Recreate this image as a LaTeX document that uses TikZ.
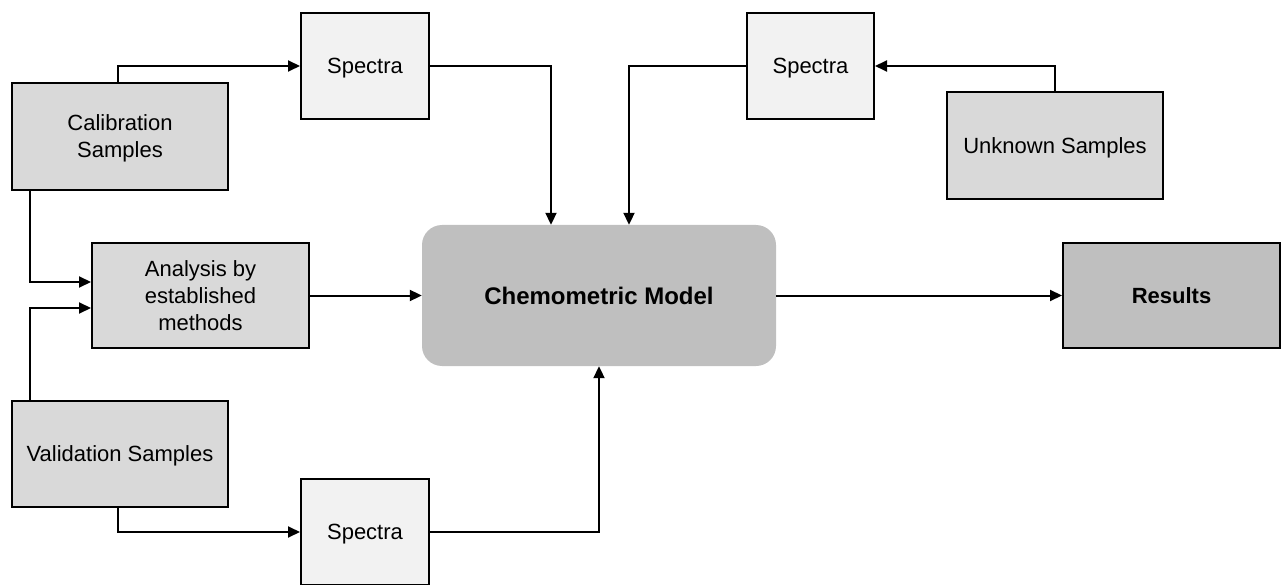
\documentclass[tikz,border=0pt]{standalone}
\usepackage{fontspec}
\setmainfont{Liberation Sans}
\usetikzlibrary{arrows.meta,calc}
\definecolor{boxgray}{HTML}{D9D9D9}
\definecolor{speclight}{HTML}{F2F2F2}
\definecolor{modelgray}{HTML}{BFBFBF}
\begin{document}
\begin{tikzpicture}[x=1pt,y=-1pt,
  every node/.style={font=\fontsize{22}{27}\selectfont, align=center, inner sep=0pt, text depth=0pt},
  samplebox/.style={draw=black, line width=2pt, fill=boxgray, minimum width=216pt, minimum height=106pt},
  specbox/.style={draw=black, line width=2pt, fill=speclight, minimum width=128pt, minimum height=106pt},
  modelbox/.style={fill=modelgray, rounded corners=20pt, minimum width=354pt, minimum height=141pt, font=\fontsize{24}{29}\selectfont\bfseries},
  resbox/.style={draw=black, line width=2pt, fill=modelgray, minimum width=217pt, minimum height=105pt, font=\fontsize{22}{27}\selectfont\bfseries},
  conn/.style={draw=black, line width=2pt, -{Triangle[length=12pt,width=11pt]}}
]
\useasboundingbox (0,0) rectangle (1287,585);
\node[samplebox, minimum height=107pt] (cal) at (120,136.5) {Calibration\\Samples};
\node[specbox] (sp1) at (365,66) {Spectra};
\node[samplebox, minimum width=217pt, minimum height=105pt] (ana) at (200.5,295.5) {Analysis by\\established\\methods};
\node[samplebox] (val) at (120,454) {Validation Samples};
\node[specbox] (sp3) at (365,532) {Spectra};
\node[modelbox] (chem) at (599,295.5) {Chemometric Model};
\node[specbox, minimum width=127pt] (sp2) at (810.5,66) {Spectra};
\node[samplebox, minimum height=107pt] (unk) at (1055,145.5) {Unknown Samples};
\node[resbox] (res) at (1171.5,295.5) {Results};

\coordinate (chemA) at ($(chem.north)+(-48,0)$);
\coordinate (chemB) at ($(chem.north)+(30,0)$);
\coordinate (calS) at ($(cal.south west)+(19,0)$);
\coordinate (valN) at ($(val.north west)+(19,0)$);
\coordinate (anaA) at ($(ana.west)+(0,-13.5)$);
\coordinate (anaB) at ($(ana.west)+(0,12.5)$);
\coordinate (calN) at ($(cal.north)+(-2,0)$);
\coordinate (valS) at ($(val.south)+(-2,0)$);

\draw[conn] (calN) |- (sp1.west);
\draw[conn] (sp1.east) -| (chemA);
\draw[conn] (sp2.west) -| (chemB);
\draw[conn] (unk.north) |- (sp2.east);
\draw[conn] (calS) |- (anaA);
\draw[conn] (valN) |- (anaB);
\draw[conn] (ana.east) -- (chem.west);
\draw[conn] (valS) |- (sp3.west);
\draw[conn] (sp3.east) -| (chem.south);
\draw[conn] (chem.east) -- (res.west);
\end{tikzpicture}
\end{document}
